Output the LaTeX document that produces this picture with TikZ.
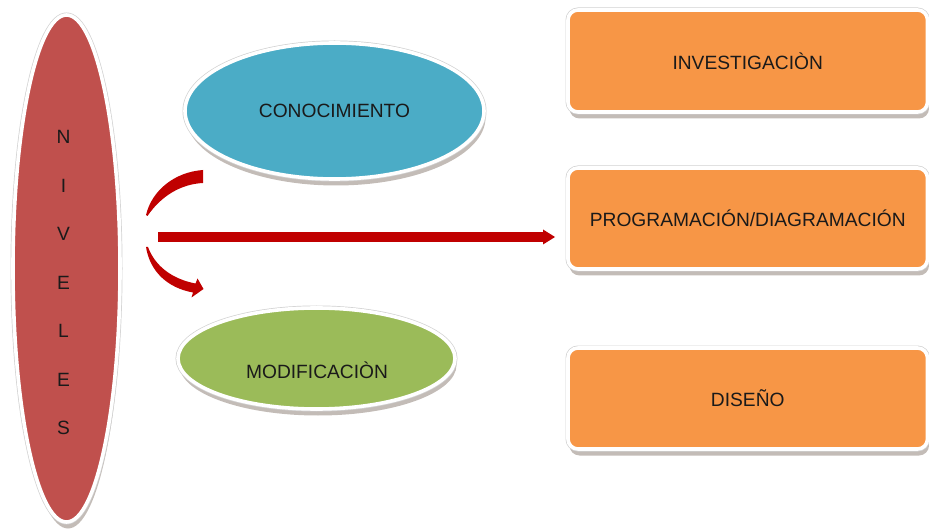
\documentclass[tikz,border=0pt]{standalone}
\usepackage{fontspec}
\setmainfont{Liberation Sans}
\usetikzlibrary{shapes.geometric,shadows,arrows.meta}
\definecolor{nivred}{HTML}{C0504D}
\definecolor{conblue}{HTML}{4BACC6}
\definecolor{modgreen}{HTML}{9BBB59}
\definecolor{boxorange}{HTML}{F79646}
\definecolor{arrred}{HTML}{C00000}
\definecolor{txtcol}{HTML}{1A1A1A}
\definecolor{shadowcol}{HTML}{7A6A60}
\begin{document}
\begin{tikzpicture}[x=1pt,y=-1pt,
  framed/.style={draw=white, line width=3.6pt,
    drop shadow={shadow xshift=1.5pt, shadow yshift=-6.5pt, opacity=0.45, fill=shadowcol},
    preaction={draw=black!18, line width=5pt}},
  ell/.style={ellipse, framed, inner sep=0pt, font=\fontsize{19.2}{22}\selectfont, text=txtcol},
  obox/.style={rectangle, rounded corners=10pt, framed, fill=boxorange, inner sep=0pt,
    minimum width=359.5pt, font=\fontsize{19.2}{22}\selectfont, text=txtcol},
  lbl/.style={inner sep=0pt, font=\fontsize{19.2}{22}\selectfont, text=txtcol},
  arr/.style={fill=arrred, draw=none}]
\useasboundingbox (0,0) rectangle (929,529);

% left ellipse
\node[ell, fill=nivred, minimum width=107pt, minimum height=507pt] (niv) at (66.5,268.5) {};
\node[lbl, align=center, font=\fontsize{19.2}{48.5}\selectfont] (nivtxt) at (63.5,282.5) {N\\I\\V\\E\\L\\E\\S};

% middle ellipses
\node[ell, fill=conblue, minimum width=299pt, minimum height=136pt] (con) at (334.5,111) {CONOCIMIENTO};
\node[ell, fill=modgreen, minimum width=277pt, minimum height=101pt] (mod) at (316.5,358.5) {};
\node[lbl] (modtxt) at (317,370) {MODIFICACIÒN};

% boxes
\node[obox, minimum height=102pt] (inv) at (747.75,61) {INVESTIGACIÒN};
\node[obox, minimum height=101pt] (prog) at (747.75,218.5) {PROGRAMACIÓN/DIAGRAMACIÓN};
\node[obox, minimum height=101pt] (dis) at (747.75,398.5) {DISEÑO};

% arrows
\coordinate (s1) at (158,237);
\coordinate (s2) at (555,237);
\draw[draw=arrred, line width=9.5pt, -{Triangle[length=12pt,width=15pt,line width=0pt]}] (s1) -- (s2);

\coordinate (u1) at (146,215);
\coordinate (u2) at (203,170);
\coordinate (u3) at (203,183);
\fill[arr] (u1) .. controls (152,190) and (175,172) .. (u2) -- (u3)
  .. controls (181,184) and (161,196) .. (147.5,216) -- cycle;

\coordinate (l1) at (146,247);
\coordinate (l2) at (203.5,289);
\fill[arr] (l1) .. controls (150,272) and (168,288) .. (193,292.5) -- (191.5,297.5) -- (l2)
  -- (197.5,278.5) -- (195.5,283.5) .. controls (172,279) and (155,266) .. (148,247) -- cycle;
\end{tikzpicture}
\end{document}
